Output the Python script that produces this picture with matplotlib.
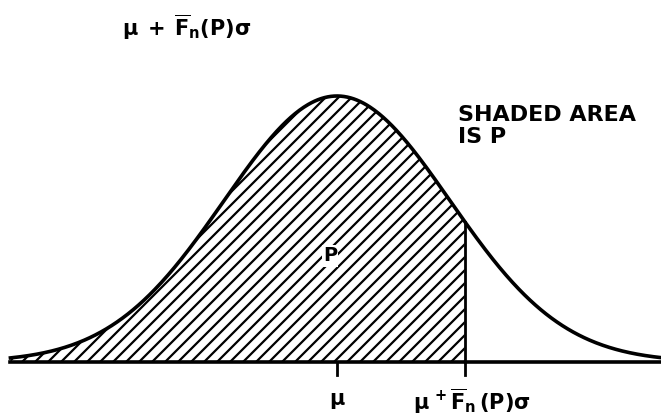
import numpy as np
import matplotlib
matplotlib.use("Agg")
import matplotlib.pyplot as plt
from matplotlib.patches import Polygon

# Data (standard units: z = (x - mu)/sigma)
mu = 0.0
sigma = 1.0
z_cut = 1.13          # cutoff mu + F_n(P) sigma
x_min, x_max = -2.89, 2.87
tick_positions = [mu, mu + z_cut * sigma]
tick_labels = [r"$\mu$", r"$\mu\,^+\overline{F}_n\,(\mathbf{P})\sigma$"]
top_label = r"$\mu\;+\;\overline{F}_n(\mathbf{P})\sigma$"
note_text = "SHADED AREA\nIS P"
area_label = "P"

plt.rcParams['mathtext.fontset'] = 'dejavusans'
plt.rcParams['mathtext.default'] = 'bf'

fig = plt.figure(figsize=(6.61, 4.18), dpi=100)
ax = fig.add_axes([0, 0, 1, 1])
# pixel mapping: x_px = 337 + 113 z ; baseline at 362 px, peak at 96 px
ax.set_xlim(-337 / 113, (661 - 337) / 113)
ax.set_ylim(-(56 / 266) * 0.39894, (362 / 266) * 0.39894)
ax.axis('off')

x = np.linspace(x_min, x_max, 600)
pdf = np.exp(-0.5 * ((x - mu) / sigma) ** 2) / (sigma * np.sqrt(2 * np.pi))

# shaded region polygon
xc = mu + z_cut * sigma
xs = np.append(x[x <= xc], xc)
ys = np.exp(-0.5 * ((xs - mu) / sigma) ** 2) / (sigma * np.sqrt(2 * np.pi))
verts = np.column_stack([np.concatenate([xs, [xs[-1], xs[0]]]),
                         np.concatenate([ys, [0, 0]])])
poly = Polygon(verts, closed=True, facecolor='none', edgecolor='none')
ax.add_patch(poly)

# hatch lines at 45 deg in pixel space
fig.canvas.draw()
inv = ax.transData.inverted()
spacing = 13
for c in np.arange(-450, 700, spacing):
    p0 = inv.transform((c, 0))
    p1 = inv.transform((c + 450, 450))
    ln, = ax.plot([p0[0], p1[0]], [p0[1], p1[1]], color='black', lw=1.6,
                  solid_capstyle='butt')
    ln.set_clip_path(poly)

# curve
ax.plot(x, pdf, color='black', lw=2.6)
# vertical at cutoff
ycut = np.exp(-0.5 * z_cut ** 2) / np.sqrt(2 * np.pi)
ax.plot([xc, xc], [0, ycut], color='black', lw=2.0)
# baseline
ax.plot([x_min, x_max], [0, 0], color='black', lw=2.6)
# ticks
for t in tick_positions:
    ax.plot([t, t], [0, -0.0195], color='black', lw=2.0)

ax.text(tick_positions[0], -0.0585, tick_labels[0], ha='center', va='center',
        fontsize=15)
ax.text(tick_positions[1] + 0.06, -0.0585, tick_labels[1], ha='center',
        va='center', fontsize=15)

fig.text(187 / 661, 1 - 27 / 418, top_label, ha='center', va='center',
         fontsize=15)
fig.text(458 / 661, 1 - 126 / 418, note_text, ha='left', va='center',
         fontsize=16, fontweight='bold', linespacing=1.12)
ax.text(-0.062, 0.159, area_label, ha='center', va='center', fontsize=14,
        fontweight='bold',
        bbox=dict(facecolor='white', edgecolor='none', pad=1.0))

fig.savefig("out.png", dpi=100)
